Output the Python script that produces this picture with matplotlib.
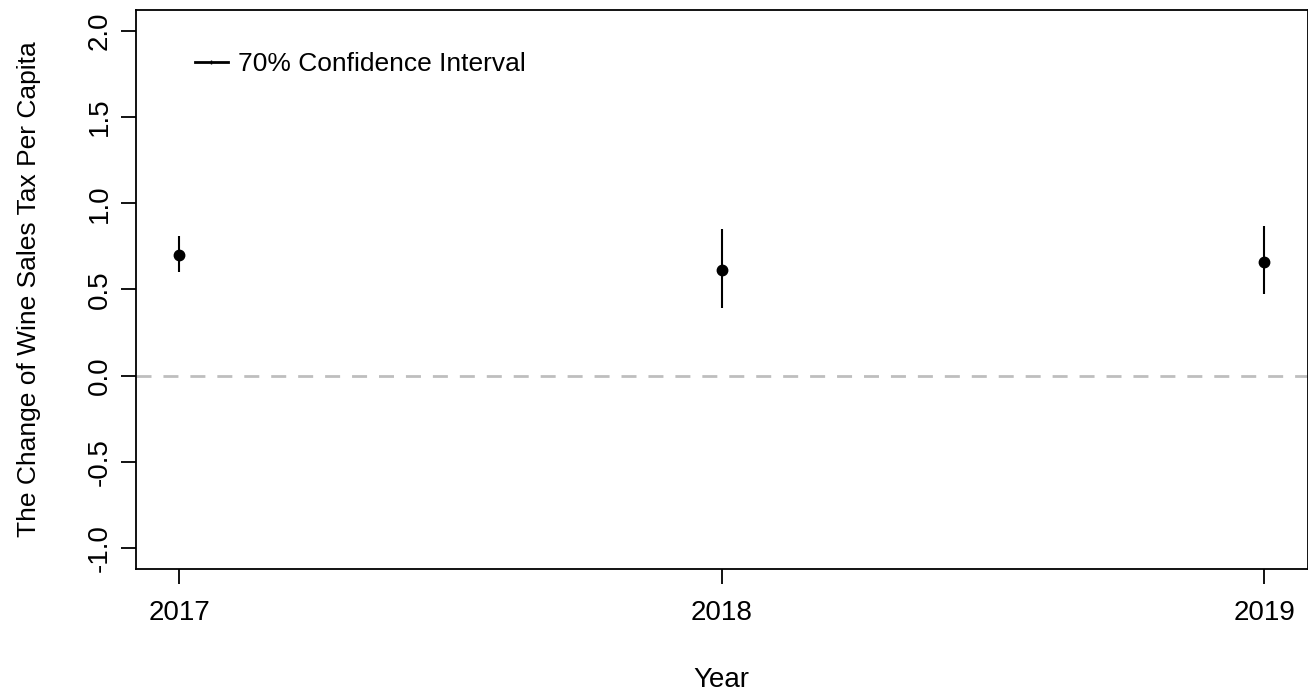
import matplotlib.pyplot as plt
from matplotlib.lines import Line2D

plt.rcParams['font.family'] = ['Liberation Sans', 'DejaVu Sans']

# 估计值与 70% 置信区间
years = [2017, 2018, 2019]
estimate = [0.70, 0.615, 0.66]
ci_low = [0.60, 0.395, 0.475]
ci_high = [0.81, 0.85, 0.865]

yticks = [-1.0, -0.5, 0.0, 0.5, 1.0, 1.5, 2.0]

fig = plt.figure(figsize=(13.08, 6.93), dpi=100)
ax = fig.add_axes([0.104, 0.179, 0.8957, 0.8066])

# 零参考线
ax.axhline(0, color='#bebebe', lw=2, ls=(0, (5.4, 4.3)), zorder=1)

# 置信区间竖线 + 点估计
ax.vlines(years, ci_low, ci_high, color='black', lw=1.5, zorder=2)
ax.plot(years, estimate, 'o', color='black', markersize=7.5, zorder=3)

ax.set_xlim(2016.92, 2019.08)
ax.set_ylim(-1.12, 2.12)
ax.set_xticks(years)
ax.set_xticklabels([str(y) for y in years])
ax.set_yticks(yticks)
ax.set_yticklabels([f'{v:.1f}' for v in yticks], rotation=90, va='center')

for s in ax.spines.values():
    s.set_linewidth(1.3)
ax.tick_params(axis='both', direction='out', length=11, width=1.3, labelsize=20)
ax.tick_params(axis='y', pad=6)
ax.tick_params(axis='x', pad=11)

ax.set_xlabel('Year', fontsize=20, labelpad=30)
ax.set_ylabel('The Change of Wine Sales Tax Per Capita', fontsize=19, labelpad=33)

handle = Line2D([], [], color='black', lw=2, marker='|', markersize=3)
ax.legend([handle], ['70% Confidence Interval'], loc='center left',
          bbox_to_anchor=(0.05, 0.903), frameon=False, fontsize=19,
          handlelength=1.25, handletextpad=0.38, borderpad=0, borderaxespad=0)

fig.savefig('out.png', dpi=100)
